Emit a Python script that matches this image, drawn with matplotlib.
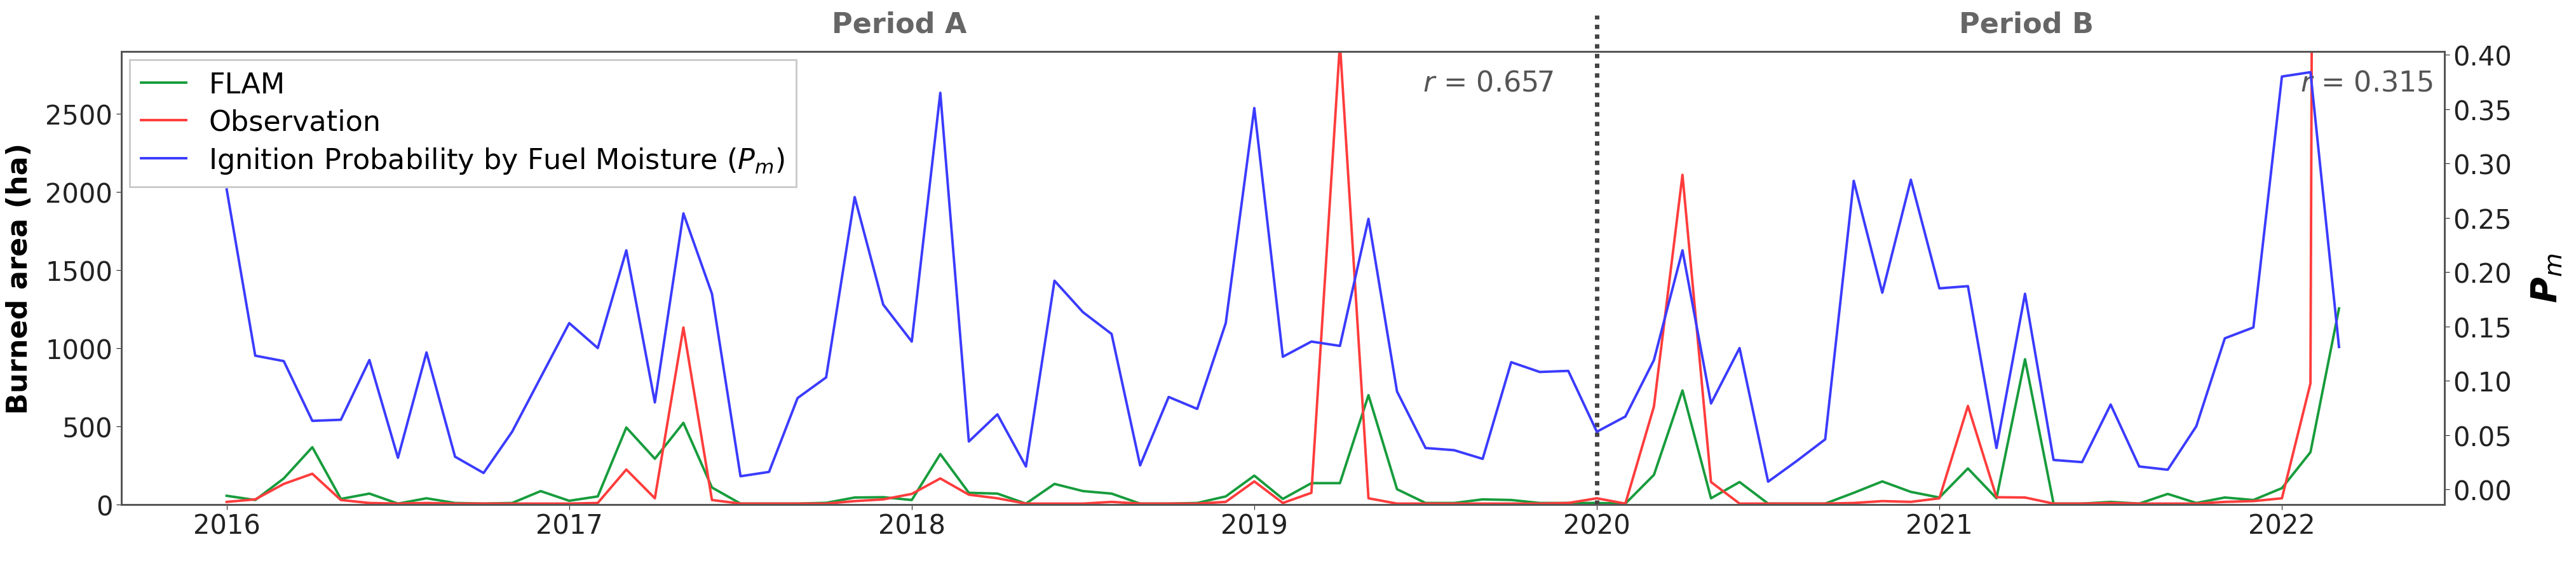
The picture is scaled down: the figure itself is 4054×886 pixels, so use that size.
import matplotlib
matplotlib.use("Agg")
import matplotlib.pyplot as plt
import numpy as np

plt.rcParams['font.family'] = ['Liberation Sans Narrow', 'DejaVu Sans']
plt.rcParams['mathtext.fontset'] = 'custom'
plt.rcParams['mathtext.it'] = 'Liberation Sans Narrow:italic'
plt.rcParams['mathtext.rm'] = 'Liberation Sans Narrow'

years = ["2016", "2017", "2018", "2019", "2020", "2021", "2022"]
flam = [55, 28, 166, 366, 35, 69, 5, 39, 9, 5, 9, 85,
        23, 51, 492, 292, 522, 108, 5, 5, 5, 10, 44, 46,
        28, 322, 74, 69, 5, 131, 85, 69, 5, 5, 9, 51,
        184, 35, 136, 136, 699, 97, 9, 9, 32, 28, 9, 9,
        9, 5, 189, 729, 39, 143, 5, 5, 5, 74, 147, 80,
        44, 230, 39, 929, 5, 5, 16, 5, 67, 9, 44, 28,
        104, 334, 1254]
obs = [16, 32, 131, 196, 28, 9, 5, 9, 5, 5, 5, 5,
       5, 9, 223, 39, 1132, 28, 5, 5, 5, 5, 21, 32,
       67, 166, 62, 39, 5, 5, 5, 16, 5, 5, 5, 16,
       147, 9, 74, 2950, 39, 5, 5, 5, 5, 5, 5, 9,
       39, 5, 626, 2109, 143, 5, 5, 5, 5, 9, 21, 16,
       39, 630, 46, 44, 5, 5, 9, 5, 5, 5, 16, 21,
       39, 775, 50000]
pm = [0.276, 0.123, 0.118, 0.063, 0.064, 0.119, 0.029, 0.126, 0.030, 0.015, 0.053, 0.103,
      0.153, 0.130, 0.220, 0.080, 0.254, 0.180, 0.012, 0.016, 0.084, 0.103, 0.269, 0.170,
      0.136, 0.365, 0.044, 0.069, 0.021, 0.192, 0.163, 0.143, 0.022, 0.085, 0.074, 0.153,
      0.351, 0.122, 0.136, 0.132, 0.249, 0.090, 0.038, 0.036, 0.028, 0.117, 0.108, 0.109,
      0.053, 0.067, 0.119, 0.220, 0.079, 0.130, 0.007, 0.026, 0.046, 0.284, 0.181, 0.285,
      0.185, 0.187, 0.038, 0.180, 0.027, 0.025, 0.078, 0.021, 0.018, 0.058, 0.139, 0.149,
      0.380, 0.384, 0.131]

x = np.arange(len(flam))

fig = plt.figure(figsize=(40.54, 8.87), dpi=100)
ax = fig.add_axes([0.047, 0.104, 0.902, 0.804])
ax2 = ax.twinx()

l1, = ax.plot(x, flam, color="#179c3c", lw=2.8, label="FLAM")
l2, = ax.plot(x, obs, color="#ff3c3c", lw=2.8, label="Observation")
l3, = ax2.plot(x, pm, color="#3b3bff", lw=2.8,
               label="Ignition Probability by Fuel Moisture ($P_m$)")

ax.set_xlim(-3.7, 77.7)
ax.set_ylim(0, 2900)
ax2.set_ylim(-0.0139, 0.4033)
ax.set_xticks(np.arange(0, 73, 12))
ax.set_xticklabels(years)
ax.set_yticks([0, 500, 1000, 1500, 2000, 2500])
ax2.set_yticks(np.arange(0, 0.41, 0.05))
ax2.set_yticklabels([f"{v:.2f}" for v in np.arange(0, 0.41, 0.05)])
for a in (ax, ax2):
    a.tick_params(labelsize=30, colors="#222222", length=6)
    for s in a.spines.values():
        s.set_color("#555555")
        s.set_linewidth(2)

ax.set_ylabel("Burned area (ha)", fontsize=32, fontweight="bold", labelpad=14,
              family=['DejaVu Sans'])
ax2.set_ylabel("P$_m$", fontsize=40, fontweight="bold", fontstyle="italic",
               rotation=90, labelpad=20, family=['DejaVu Sans'])

ax.axvline(48, ymin=0, ymax=1.08, color="#444444", lw=5, ls=(0, (1, 1.2)), clip_on=False)
ax.text(46.5, 2700, "$r$ = 0.657", fontsize=32, color="#555555", ha="right", va="center")
ax.text(77.3, 2700, "$r$ = 0.315", fontsize=32, color="#555555", ha="right", va="center")
ax.text(0.335, 1.03, "Period A", transform=ax.transAxes, fontsize=32, fontweight="bold",
        color="#666666", ha="center", va="bottom")
ax.text(0.82, 1.03, "Period B", transform=ax.transAxes, fontsize=32, fontweight="bold",
        color="#666666", ha="center", va="bottom")

leg = ax.legend(handles=[l1, l2, l3], loc="upper left", fontsize=32, frameon=True,
                fancybox=False, edgecolor="#bbbbbb", borderaxespad=0.3,
                labelspacing=0.35, handlelength=1.6)
leg.get_frame().set_linewidth(2)

fig.savefig("out.png", dpi=100)
